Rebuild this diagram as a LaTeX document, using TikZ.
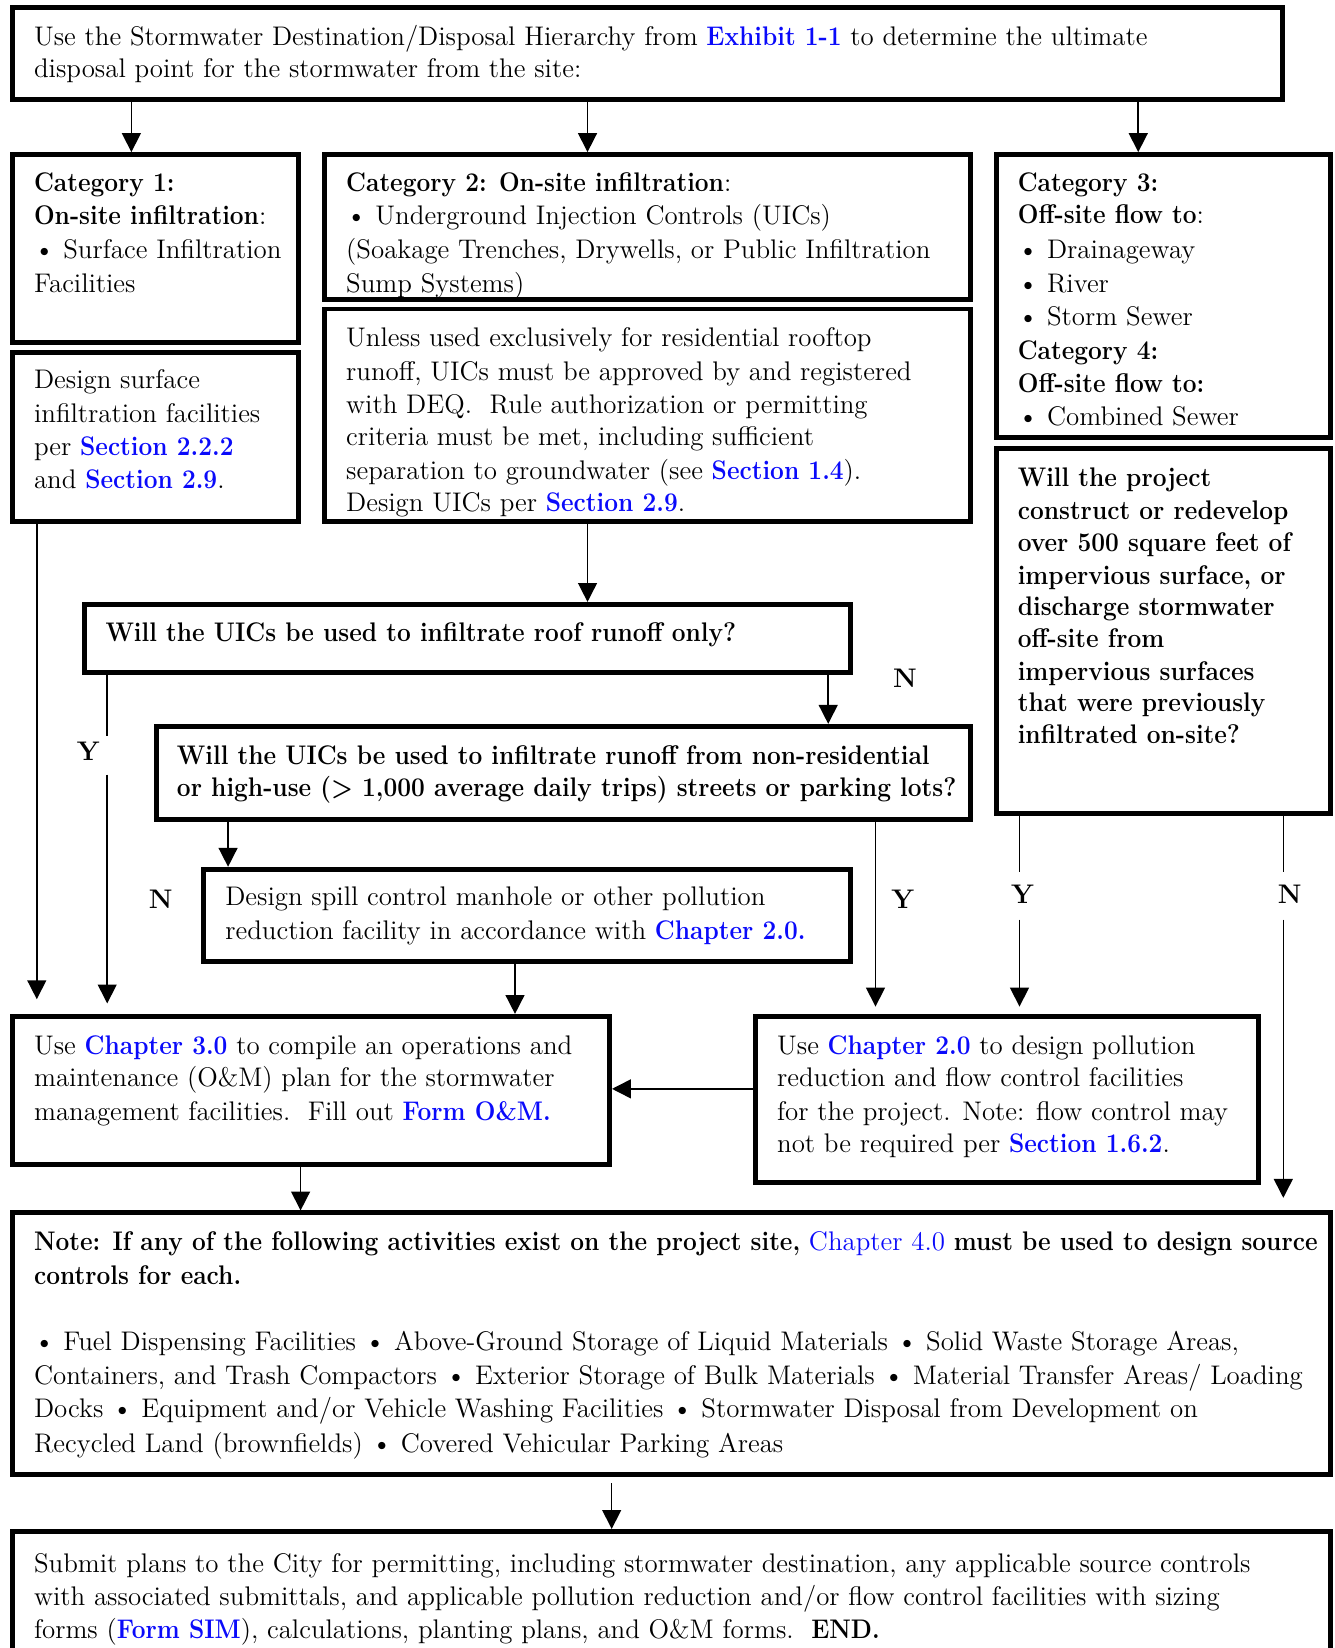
\documentclass[tikz,border=0pt]{standalone}
\usepackage{graphicx}
\usetikzlibrary{arrows.meta}
\definecolor{linkblue}{RGB}{10,10,250}
\newcommand\myfs{\fontsize{12.8}{15}\selectfont}
\newcommand\bld[1]{\scalebox{0.91}[1]{\textbf{#1}}}
\newcommand\lnk[1]{\textcolor{linkblue}{\bld{#1}}}
\newcommand\lnkr[1]{\textcolor{linkblue}{#1}}
\tikzset{
  box/.style={draw, line width=2.3pt, inner sep=0pt, rectangle},
  txt/.style={anchor=base west, inner sep=0pt, font=\myfs},
  arr/.style={line width=0.75pt, -{Triangle[length=9pt,width=9pt]}},
  seg/.style={line width=0.75pt},
  lbl/.style={font=\myfs\bfseries, inner sep=0pt, anchor=center}
}
\newcommand\mybox[5]{\node[box,minimum width={(#4-#2)*0.5pt},minimum height={(#5-#3)*0.5pt}] (#1) at ({(#2+#4)/2},{(#3+#5)/2}) {};}
\newcommand\tl[4]{\node[txt] (#1) at (#2,#3) {#4};}
\begin{document}
\begin{tikzpicture}[x=0.5pt,y=-0.5pt]
\useasboundingbox (0,0) rectangle (1270,1568);
% ---------- texts ----------
\tl{ta1}{32}{43}{Use the Stormwater Destination/Disposal Hierarchy from \lnk{Exhibit 1-1} to determine the ultimate}
\tl{ta2}{32}{74}{disposal point for the stormwater from the site:}
% category 1
\tl{tb1}{32}{182}{\bld{Category 1:}}
\tl{tb2}{32}{214}{\bld{On-site infiltration}:}
\tl{tb3}{32}{246}{\textbullet\ Surface Infiltration}
\tl{tb4}{32}{278}{Facilities}
\tl{tc1}{32}{370}{Design surface}
\tl{tc2}{32}{402}{infiltration facilities}
\tl{tc3}{32}{433}{per \lnk{Section 2.2.2}}
\tl{tc4}{32}{465}{and \lnk{Section 2.9}.}
% category 2
\tl{td1}{329}{182}{\bld{Category 2: On-site infiltration}:}
\tl{td2}{329}{214}{\textbullet\ Underground Injection Controls (UICs)}
\tl{td3}{329}{246}{(Soakage Trenches, Drywells, or Public Infiltration}
\tl{td4}{329}{278}{Sump Systems)}
\tl{te1}{329}{330}{Unless used exclusively for residential rooftop}
\tl{te2}{329}{362}{runoff, UICs must be approved by and registered}
\tl{te3}{329}{393}{with DEQ.\ \ Rule authorization or permitting}
\tl{te4}{329}{424}{criteria must be met, including sufficient}
\tl{te5}{329}{456}{separation to groundwater (see \lnk{Section 1.4}).}
\tl{te6}{329}{487}{Design UICs per \lnk{Section 2.9}.}
% category 3 / 4
\tl{tf1}{968}{182}{\bld{Category 3:}}
\tl{tf2}{968}{213}{\bld{Off-site flow to}:}
\tl{tf3}{968}{246}{\textbullet\ Drainageway}
\tl{tf4}{968}{278}{\textbullet\ River}
\tl{tf5}{968}{310}{\textbullet\ Storm Sewer}
\tl{tf6}{968}{342}{\bld{Category 4:}}
\tl{tf7}{968}{373}{\bld{Off-site flow to:}}
\tl{tf8}{968}{405}{\textbullet\ Combined Sewer}
% project question
\tl{tg1}{968}{463}{\bld{Will the project}}
\tl{tg2}{968}{494}{\bld{construct or redevelop}}
\tl{tg3}{968}{525}{\bld{over 500 square feet of}}
\tl{tg4}{968}{556}{\bld{impervious surface, or}}
\tl{tg5}{968}{586}{\bld{discharge stormwater}}
\tl{tg6}{968}{616}{\bld{off-site from}}
\tl{tg7}{968}{647}{\bld{impervious surfaces}}
\tl{tg8}{968}{677}{\bld{that were previously}}
\tl{tg9}{968}{707}{\bld{infiltrated on-site?}}
% roof question
\tl{th1}{100}{610}{\bld{Will the UICs be used to infiltrate roof runoff only?}}
% non-residential question
\tl{ti1}{168}{727}{\bld{Will the UICs be used to infiltrate runoff from non-residential}}
\tl{ti2}{168}{758}{\bld{or high-use (> 1,000 average daily trips) streets or parking lots?}}
% spill
\tl{tj1}{214}{862}{Design spill control manhole or other pollution}
\tl{tj2}{214}{894}{reduction facility in accordance with \lnk{Chapter 2.0.}}
% chapter 3
\tl{tk1}{32}{1003}{Use \lnk{Chapter 3.0} to compile an operations and}
\tl{tk2}{32}{1034}{maintenance (O\&M) plan for the stormwater}
\tl{tk3}{32}{1066}{management facilities.\ \ Fill out \lnk{Form O\&M.}}
% chapter 2
\tl{tl1}{739}{1003}{Use \lnk{Chapter 2.0} to design pollution}
\tl{tl2}{739}{1034}{reduction and flow control facilities}
\tl{tl3}{739}{1066}{for the project. Note: flow control may}
\tl{tl4}{739}{1097}{not be required per \lnk{Section 1.6.2}.}
% note
\tl{tm1}{32}{1190}{\bld{Note: If any of the following activities exist on the project site,} \lnkr{Chapter 4.0} \bld{must be used to design source}}
\tl{tm2}{32}{1222}{\bld{controls for each.}}
\tl{tm3}{32}{1285}{\textbullet\ Fuel Dispensing Facilities \textbullet\ Above-Ground Storage of Liquid Materials \textbullet\ Solid Waste Storage Areas,}
\tl{tm4}{32}{1317}{Containers, and Trash Compactors \textbullet\ Exterior Storage of Bulk Materials \textbullet\ Material Transfer Areas/ Loading}
\tl{tm5}{32}{1349}{Docks \textbullet\ Equipment and/or Vehicle Washing Facilities \textbullet\ Stormwater Disposal from Development on}
\tl{tm6}{32}{1382}{Recycled Land (brownfields) \textbullet\ Covered Vehicular Parking Areas}
% submit
\tl{tn1}{32}{1496}{Submit plans to the City for permitting, including stormwater destination, any applicable source controls}
\tl{tn2}{32}{1528}{with associated submittals, and applicable pollution reduction and/or flow control facilities with sizing}
\tl{tn3}{32}{1559}{forms (\lnk{Form SIM}), calculations, planting plans, and O\&M forms.\ \ \bld{END.}}
% ---------- boxes ----------
\mybox{top}{12}{7}{1220}{95}
\mybox{cat1}{12}{147}{284}{326}
\mybox{des1}{12}{335}{284}{496}
\mybox{cat2}{309}{147}{923}{285}
\mybox{unl}{309}{294}{923}{496}
\mybox{cat3}{948}{147}{1266}{416}
\mybox{proj}{948}{427}{1266}{774}
\mybox{roof}{80}{575}{809}{640}
\mybox{nres}{149}{691}{923}{780}
\mybox{spill}{194}{827}{809}{915}
\mybox{ch3}{12}{967}{580}{1108}
\mybox{ch2}{719}{967}{1197}{1125}
\mybox{note}{12}{1154}{1266}{1403}
\mybox{sub}{12}{1457}{1266}{1610}
% ---------- labels ----------
\node[lbl] (ly1) at (84,715) {Y};
\node[lbl] (ln1) at (861,645) {N};
\node[lbl] (ln2) at (153,856) {N};
\node[lbl] (ly2) at (859,856) {Y};
\node[lbl] (ly3) at (973,851) {Y};
\node[lbl] (ln3) at (1227,851) {N};
% gap coordinates
\coordinate (ya) at (102,700);
\coordinate (yb) at (102,737);
\coordinate (pa) at (970,830);
\coordinate (pb) at (970,875);
\coordinate (qa) at (1221,830);
\coordinate (qb) at (1221,875);
% ---------- connectors ----------
\draw[arr] (top.south -| 125,0) -- (cat1.north -| 125,0);
\draw[arr] (top.south -| 559,0) -- (cat2.north -| 559,0);
\draw[arr] (top.south -| 1083,0) -- (cat3.north -| 1083,0);
\draw[arr] (unl.south -| 559,0) -- (roof.north -| 559,0);
\draw[arr, shorten >=7pt] (des1.south -| 35,0) -- (ch3.north -| 35,0);
\draw[seg] (roof.south -| ya) -- (ya);
\draw[arr, shorten >=5pt] (yb) -- (ch3.north -| yb);
\draw[arr] (roof.south -| 788,0) -- (nres.north -| 788,0);
\draw[arr] (nres.south -| 217,0) -- (spill.north -| 217,0);
\draw[arr, shorten >=3.5pt] (nres.south -| 833,0) -- (ch2.north -| 833,0);
\draw[seg] (proj.south -| pa) -- (pa);
\draw[arr, shorten >=3.5pt] (pb) -- (ch2.north -| pb);
\draw[seg] (proj.south -| qa) -- (qa);
\draw[arr, shorten >=6pt] (qb) -- (note.north -| qb);
\draw[arr] (spill.south -| 490,0) -- (ch3.north -| 490,0);
\draw[arr] (ch2.west |- 0,1036) -- (ch3.east |- 0,1036);
\draw[arr] (ch3.south -| 286,0) -- (note.north -| 286,0);
\draw[arr, shorten <=3pt] (note.south -| 582,0) -- (sub.north -| 582,0);
\end{tikzpicture}
\end{document}
